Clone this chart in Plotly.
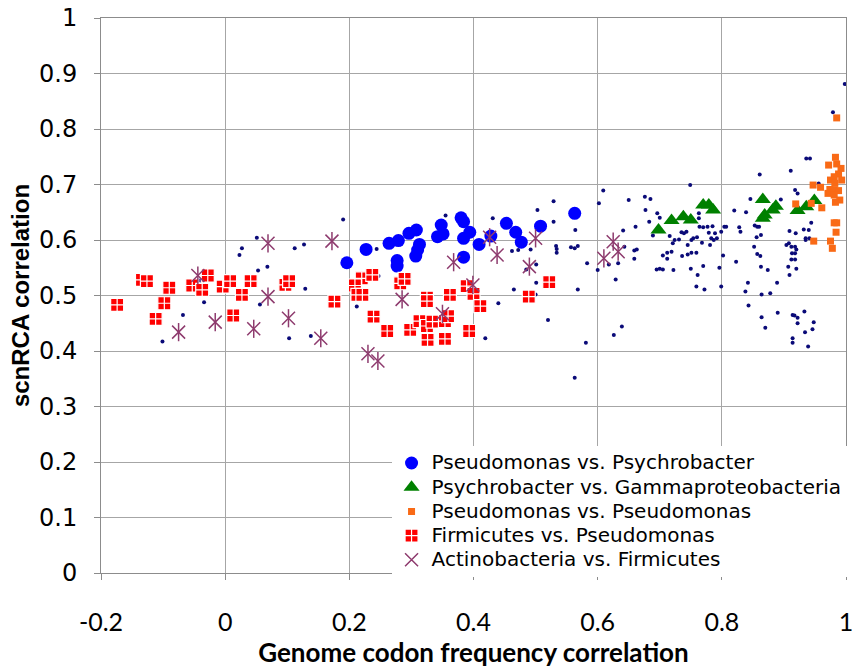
import plotly.graph_objects as go

# ---------------- data ----------------
# all pairs (background small navy dots)
bg_x = [0.051, 0.027, 0.023, 0.112, 0.127, 0.190, 0.053, 0.068, -0.040, 0.129, -0.034, 0.056, -0.068, -0.101, 0.103, 0.138,
        0.244, 0.355, 0.247, 0.212, 0.431, 0.440, 0.419, 0.503, 0.529, 0.529, 0.564, 0.462, 0.472, 0.492, 0.533, 0.534,
        0.534, 0.557, 0.563, 0.568, 0.501, 0.485, 0.465, 0.501, 0.500, 0.568, 0.520, 0.563,
        0.749, 0.861, 0.911, 0.936, 0.942, 0.609, 0.602, 0.650, 0.676, 0.685, 0.677, 0.696, 0.700, 0.683, 0.661, 0.641,
        0.583, 0.600, 0.618, 0.633, 0.643, 0.659, 0.663, 0.659, 0.629, 0.581, 0.626, 0.639, 0.689, 0.716, 0.724, 0.731,
        0.721, 0.745, 0.754, 0.763, 0.763, 0.770, 0.777, 0.785, 0.779, 0.799, 0.804, 0.807, 0.739, 0.735, 0.743, 0.764,
        0.789, 0.792, 0.783, 0.787, 0.781, 0.768, 0.760, 0.751, 0.719, 0.712, 0.705, 0.712, 0.695, 0.700, 0.705, 0.722,
        0.736, 0.745, 0.751, 0.759, 0.770, 0.750, 0.761, 0.759, 0.772, 0.796, 0.799, 0.802, 0.823, 0.828, 0.830, 0.820,
        0.839, 0.846, 0.857, 0.853, 0.860, 0.856, 0.863, 0.852, 0.857, 0.862, 0.863, 0.874, 0.842, 0.838, 0.864, 0.878,
        0.889, 0.843, 0.864, 0.870, 0.890, 0.895, 0.909, 0.919, 0.908, 0.904, 0.912, 0.918, 0.920, 0.913, 0.918, 0.912,
        0.918, 0.907, 0.920, 0.909, 0.918, 0.922, 0.932, 0.940, 0.935, 0.941, 0.935, 0.944, 0.956, 0.914, 0.917, 0.922,
        0.922, 0.933, 0.948, 0.946, 0.934, 0.914, 0.914, 0.939, 0.979, 0.998]
bg_y = [0.604, 0.585, 0.573, 0.585, 0.592, 0.637, 0.545, 0.552, 0.527, 0.512, 0.488, 0.484, 0.465, 0.417, 0.423, 0.427,
        0.584, 0.644, 0.535, 0.480, 0.639, 0.486, 0.423, 0.654, 0.670, 0.633, 0.618, 0.580, 0.582, 0.583, 0.589, 0.584,
        0.577, 0.587, 0.585, 0.589, 0.556, 0.547, 0.511, 0.523, 0.502, 0.511, 0.456, 0.352,
        0.699, 0.718, 0.725, 0.747, 0.747, 0.689, 0.666, 0.672, 0.678, 0.674, 0.654, 0.648, 0.640, 0.633, 0.624, 0.617,
        0.558, 0.546, 0.556, 0.558, 0.588, 0.581, 0.583, 0.566, 0.529, 0.415, 0.429, 0.444, 0.608, 0.607, 0.600, 0.601,
        0.594, 0.591, 0.603, 0.648, 0.639, 0.623, 0.624, 0.625, 0.613, 0.615, 0.624, 0.624, 0.612, 0.614, 0.615, 0.624,
        0.612, 0.603, 0.603, 0.600, 0.591, 0.595, 0.605, 0.600, 0.579, 0.577, 0.572, 0.566, 0.547, 0.548, 0.547, 0.546,
        0.571, 0.574, 0.577, 0.577, 0.553, 0.548, 0.537, 0.516, 0.511, 0.550, 0.516, 0.572, 0.561, 0.623, 0.615, 0.653,
        0.650, 0.674, 0.624, 0.626, 0.624, 0.605, 0.609, 0.588, 0.575, 0.571, 0.552, 0.546, 0.523, 0.507, 0.502, 0.504,
        0.523, 0.482, 0.461, 0.442, 0.469, 0.673, 0.616, 0.612, 0.594, 0.591, 0.588, 0.588, 0.583, 0.576, 0.576, 0.565,
        0.565, 0.552, 0.548, 0.537, 0.690, 0.684, 0.619, 0.618, 0.603, 0.603, 0.600, 0.631, 0.702, 0.465, 0.464, 0.460,
        0.450, 0.471, 0.452, 0.439, 0.434, 0.423, 0.415, 0.408, 0.830, 0.881]

pseu_psych_x = [0.196, 0.227, 0.264, 0.279, 0.296, 0.308, 0.277, 0.277, 0.307, 0.310, 0.313, 0.342, 0.351, 0.348,
                0.380, 0.384, 0.394, 0.384, 0.384, 0.409, 0.428, 0.453, 0.468, 0.477, 0.508, 0.563]
pseu_psych_y = [0.559, 0.583, 0.594, 0.599, 0.612, 0.618, 0.563, 0.553, 0.571, 0.582, 0.592, 0.606, 0.611, 0.627,
                0.640, 0.633, 0.614, 0.603, 0.569, 0.592, 0.607, 0.630, 0.614, 0.596, 0.625, 0.648]

psych_gamma_x = [0.698, 0.719, 0.738, 0.750, 0.770, 0.779, 0.786, 0.866, 0.866, 0.869, 0.882, 0.887, 0.922, 0.936, 0.949]
psych_gamma_y = [0.618, 0.635, 0.642, 0.636, 0.663, 0.663, 0.654, 0.673, 0.639, 0.645, 0.654, 0.661, 0.653, 0.660, 0.671]

pseu_pseu_x = [0.983, 0.972, 0.985, 0.992, 0.988, 0.981, 0.975, 0.993, 0.982, 0.947, 0.959, 0.974, 0.981, 0.988,
               0.971, 0.981, 0.990, 0.983, 0.944, 0.919, 0.961, 0.981, 0.985, 0.984, 0.948, 0.975, 0.978, 0.985]
pseu_pseu_y = [0.749, 0.735, 0.737, 0.729, 0.719, 0.714, 0.708, 0.708, 0.702, 0.699, 0.695, 0.691, 0.690, 0.689,
               0.684, 0.681, 0.672, 0.668, 0.666, 0.665, 0.658, 0.631, 0.631, 0.614, 0.598, 0.598, 0.585, 0.820]

firm_pseu_x = [-0.174, -0.134, -0.126, -0.090, -0.098, -0.112, -0.053, -0.037, -0.028, -0.004, 0.008, 0.027, 0.013,
               0.041, 0.097, 0.103, 0.176, 0.220, 0.237, 0.209, 0.213, 0.221, 0.239, 0.261, 0.282, 0.289, 0.298,
               0.325, 0.325, 0.313, 0.325, 0.334, 0.326, 0.354, 0.354, 0.359, 0.362, 0.389, 0.400, 0.411, 0.393,
               0.489, 0.522]
firm_pseu_y = [0.483, 0.528, 0.526, 0.514, 0.486, 0.458, 0.518, 0.510, 0.536, 0.516, 0.526, 0.501, 0.464,
               0.526, 0.519, 0.526, 0.489, 0.531, 0.537, 0.518, 0.501, 0.501, 0.462, 0.436, 0.522, 0.530, 0.438,
               0.496, 0.490, 0.454, 0.445, 0.453, 0.420, 0.422, 0.454, 0.463, 0.501, 0.517, 0.503, 0.481, 0.436,
               0.498, 0.524]

actino_firm_x = [-0.044, -0.075, -0.016, 0.046, 0.069, 0.069, 0.102, 0.154, 0.172, 0.230, 0.246, 0.285, 0.368,
                 0.350, 0.399, 0.426, 0.438, 0.490, 0.500, 0.625, 0.633, 0.610]
actino_firm_y = [0.536, 0.434, 0.452, 0.440, 0.594, 0.498, 0.459, 0.423, 0.598, 0.395, 0.382, 0.493, 0.560,
                 0.467, 0.519, 0.605, 0.573, 0.552, 0.603, 0.597, 0.579, 0.567]

series_names = ["Pseudomonas vs. Psychrobacter", "Psychrobacter vs. Gammaproteobacteria",
                "Pseudomonas vs. Pseudomonas", "Firmicutes vs. Pseudomonas", "Actinobacteria vs. Firmicutes"]

x_ticks = [-0.2, 0, 0.2, 0.4, 0.6, 0.8, 1]
x_tick_text = ["-0.2", "0", "0.2", "0.4", "0.6", "0.8", "1"]
y_ticks = [0, 0.1, 0.2, 0.3, 0.4, 0.5, 0.6, 0.7, 0.8, 0.9, 1]
y_tick_text = ["0", "0.1", "0.2", "0.3", "0.4", "0.5", "0.6", "0.7", "0.8", "0.9", "1"]


def lg(name):
    # larger legend text while keeping compact legend row spacing
    return "<span style='font-size:20px'>" + name + "</span>"


# ---------------- figure ----------------
fig = go.Figure()

fig.add_trace(go.Scatter(x=bg_x, y=bg_y, mode="markers", showlegend=False, hoverinfo="skip",
                         marker=dict(symbol="circle", size=4, color="#0a0a78")))

fig.add_trace(go.Scatter(x=pseu_psych_x, y=pseu_psych_y, mode="markers", name=lg(series_names[0]),
                         marker=dict(symbol="circle", size=13, color="#0000ff")))
fig.add_trace(go.Scatter(x=psych_gamma_x, y=psych_gamma_y, mode="markers", name=lg(series_names[1]),
                         marker=dict(symbol="triangle-up", size=14, color="#008000")))
fig.add_trace(go.Scatter(x=pseu_pseu_x, y=pseu_pseu_y, mode="markers", name=lg(series_names[2]),
                         marker=dict(symbol="square", size=7, color="#f96a16")))
fig.add_trace(go.Scatter(x=firm_pseu_x, y=firm_pseu_y, mode="markers", name=lg(series_names[3]),
                         marker=dict(symbol="square-cross", size=13, color="#ff0000",
                                     line=dict(color="white", width=1.2))))
fig.add_trace(go.Scatter(x=actino_firm_x, y=actino_firm_y, mode="markers", name=lg(series_names[4]),
                         legendgroup="af",
                         marker=dict(symbol="x-thin-open", size=13, color="#8e3b6e",
                                     line=dict(color="#8e3b6e", width=1.5))))
fig.add_trace(go.Scatter(x=actino_firm_x, y=actino_firm_y, mode="markers", showlegend=False, legendgroup="af",
                         hoverinfo="skip",
                         marker=dict(symbol="line-ns-open", size=13, color="#8e3b6e",
                                     line=dict(color="#8e3b6e", width=1.5))))

fig.update_layout(
    width=852, height=668,
    margin=dict(l=101, r=6, t=18, b=95, autoexpand=False),
    paper_bgcolor="white", plot_bgcolor="white",
    font=dict(family="DejaVu Sans", color="black"),
    legend=dict(x=0.39, y=0.229, xanchor="left", yanchor="top",
                bgcolor="white", font=dict(family="DejaVu Sans", size=16.3, color="black"),
                tracegroupgap=0, itemsizing="trace"),
)
fig.update_xaxes(range=[-0.2, 1], tickvals=x_ticks, ticktext=x_tick_text, automargin=False,
                 showgrid=True, gridcolor="#a6a6a6", gridwidth=1,
                 showline=True, linecolor="#8c8c8c", linewidth=1, mirror=True,
                 ticks="outside", ticklen=6, tickcolor="#8c8c8c",
                 ticklabelstandoff=21, ticklabeloverflow="allow",
                 tickfont=dict(family="Lato", size=25), zeroline=False,
                 title=dict(text="<b>Genome codon frequency correlation</b>",
                            font=dict(family="Lato", size=26), standoff=10))
fig.update_yaxes(range=[0, 1], tickvals=y_ticks, ticktext=y_tick_text, automargin=False,
                 showgrid=True, gridcolor="#a6a6a6", gridwidth=1,
                 showline=True, linecolor="#8c8c8c", linewidth=1, mirror=True,
                 ticks="outside", ticklen=6, tickcolor="#8c8c8c",
                 ticklabelstandoff=12, ticklabeloverflow="allow",
                 tickfont=dict(family="DejaVu Sans", size=24), zeroline=False,
                 title=dict(text="<b>scnRCA correlation</b>",
                            font=dict(family="Liberation Sans", size=24), standoff=2))

fig.write_html("out.html")
